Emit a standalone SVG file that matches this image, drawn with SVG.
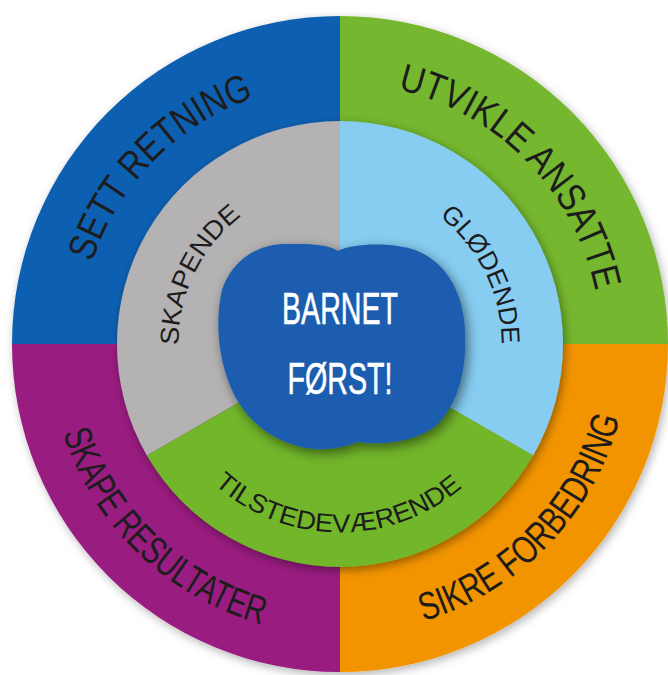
<svg xmlns="http://www.w3.org/2000/svg" xmlns:xlink="http://www.w3.org/1999/xlink" width="668" height="675" viewBox="0 0 668 675">
<style>
.lbl{font-family:"Liberation Sans","Arial",sans-serif;fill:#1c1c1c;text-anchor:middle}
.outer{font-size:39px}
.inner{font-size:26px}
.center{font-family:"Liberation Sans","Arial",sans-serif;font-size:45px;fill:#ffffff;stroke:#ffffff;stroke-width:0.6;text-anchor:middle}
</style>
<defs>
<filter id="haloShadow" x="-20%" y="-20%" width="140%" height="140%">
<feDropShadow dx="2" dy="3" stdDeviation="5" flood-color="#000" flood-opacity="0.3"/>
</filter>
<filter id="ringShadow" x="-20%" y="-20%" width="140%" height="140%">
<feDropShadow dx="2" dy="3" stdDeviation="5" flood-color="#000" flood-opacity="0.4"/>
</filter>
<filter id="blobShadow" x="-30%" y="-30%" width="160%" height="160%">
<feDropShadow dx="3" dy="4" stdDeviation="6" flood-color="#000" flood-opacity="0.5"/>
</filter>
<path id="pSett" d="M 157.1 530.2 A 261 261 0 0 1 522.9 157.8"/>
<path id="pUtv" d="M 157.1 157.8 A 259 259 0 0 1 522.9 530.2"/>
<path id="pSikre" d="M 157.8 569.0 A 289.5 289.5 0 0 0 558.5 154.1"/>
<path id="pSkape" d="M 113.5 161.3 A 291 291 0 0 0 531.3 563.3"/>
<path id="pSkapende" d="M 256.8 482.4 A 161.5 161.5 0 0 1 397.9 193.2"/>
<path id="pGlod" d="M 282.1 193.2 A 161.5 161.5 0 0 1 423.2 482.4"/>
<path id="pTil" d="M 152.5 358.1 A 188 188 0 0 0 527.1 362.7"/>
</defs>
<rect width="668" height="675" fill="#ffffff"/>
<g id="outer-ring" filter="url(#haloShadow)">
<g id="sett-retning">
<path d="M340 344 L12 344 A328 328 0 0 1 340 16 Z" fill="#1161b1"/>
</g>
<g id="utvikle-ansatte">
<path d="M340 344 L340 16 A328 328 0 0 1 668 344 Z" fill="#74b72d"/>
</g>
<g id="sikre-forbedring">
<path d="M340 344 L668 344 A328 328 0 0 1 340 672 Z" fill="#f29402"/>
</g>
<g id="skape-resultater">
<path d="M340 344 L340 672 A328 328 0 0 1 12 344 Z" fill="#991a80"/>
</g>
</g>
<g id="outer-labels">
<text class="lbl outer" textLength="239" lengthAdjust="spacingAndGlyphs"><textPath xlink:href="#pSett" href="#pSett" startOffset="50%">SETT RETNING</textPath></text>
<text class="lbl outer" textLength="298" lengthAdjust="spacingAndGlyphs"><textPath xlink:href="#pUtv" href="#pUtv" startOffset="50%">UTVIKLE ANSATTE</textPath></text>
<text class="lbl outer" textLength="295" lengthAdjust="spacingAndGlyphs"><textPath xlink:href="#pSikre" href="#pSikre" startOffset="50%">SIKRE FORBEDRING</textPath></text>
<text class="lbl outer" textLength="287" lengthAdjust="spacingAndGlyphs"><textPath xlink:href="#pSkape" href="#pSkape" startOffset="50%">SKAPE RESULTATER</textPath></text>
</g>
<g id="inner-ring" filter="url(#ringShadow)">
<g id="skapende">
<path d="M340 344 L146.9 455.5 A223 223 0 0 1 340 121 Z" fill="#b4b2b3"/>
</g>
<g id="glodende">
<path d="M340 344 L340 121 A223 223 0 0 1 533.1 455.5 Z" fill="#86cdf1"/>
</g>
<g id="tilstedevaerende">
<path d="M340 344 L533.1 455.5 A223 223 0 0 1 146.9 455.5 Z" fill="#72b62c"/>
</g>
</g>
<g id="inner-labels">
<text class="lbl inner" textLength="149" lengthAdjust="spacingAndGlyphs"><textPath xlink:href="#pSkapende" href="#pSkapende" startOffset="50%">SKAPENDE</textPath></text>
<text class="lbl inner" textLength="147" lengthAdjust="spacingAndGlyphs"><textPath xlink:href="#pGlod" href="#pGlod" startOffset="50%">GLØDENDE</textPath></text>
<text class="lbl inner" textLength="271" lengthAdjust="spacingAndGlyphs"><textPath xlink:href="#pTil" href="#pTil" startOffset="50%">TILSTEDEVÆRENDE</textPath></text>
</g>
<g id="barnet-forst">
<path filter="url(#blobShadow)" fill="#1a5daf" d="M 338 251 C 352 243, 392 242, 415 250 C 442 260, 463 287, 465 330 C 467 372, 458 402, 438 424 C 418 441, 385 446, 358 442 C 340 449, 318 452, 298 446 C 268 438, 244 418, 231 388 C 218 358, 215 320, 222 290 C 232 260, 258 244, 285 244 C 310 244, 328 244, 338 251 Z"/>
<text class="center" x="340" y="324" textLength="116" lengthAdjust="spacingAndGlyphs">BARNET</text>
<text class="center" x="340" y="394" textLength="105" lengthAdjust="spacingAndGlyphs">FØRST!</text>
</g>
<g id="connectors"/>
</svg>
